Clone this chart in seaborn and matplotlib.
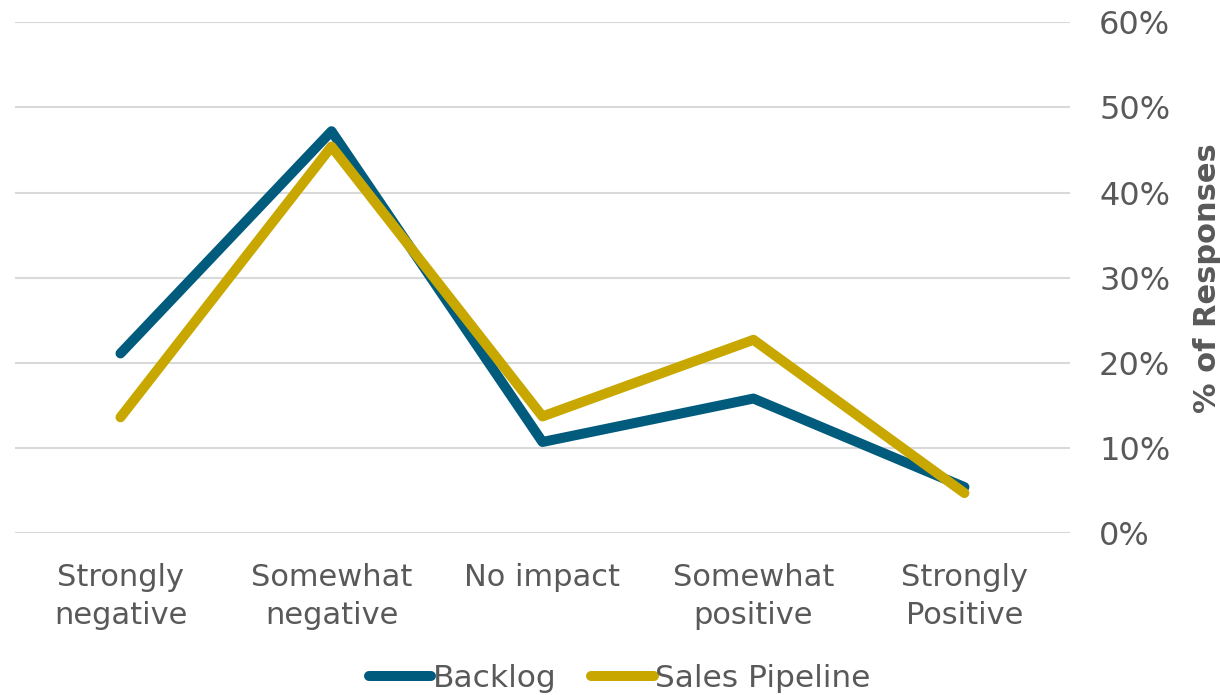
import matplotlib
matplotlib.use("Agg")
import matplotlib.pyplot as plt
import pandas as pd
import seaborn as sns
from matplotlib.ticker import PercentFormatter

categories = ["Strongly\nnegative", "Somewhat\nnegative", "No impact",
              "Somewhat\npositive", "Strongly\nPositive"]
backlog = [21.1, 47.2, 10.7, 15.8, 5.4]
sales_pipeline = [13.6, 45.4, 13.7, 22.7, 4.7]
series_names = ["Backlog", "Sales Pipeline"]
y_ticks = [0, 10, 20, 30, 40, 50, 60]

sns.set_style("white")
plt.rcParams["font.family"] = ["DejaVu Sans"]

df = pd.DataFrame({
    "pos": list(range(len(categories))) * 2,
    "value": backlog + sales_pipeline,
    "series": [series_names[0]] * len(categories) + [series_names[1]] * len(categories),
})

text_color = "#595959"
palette = {"Backlog": "#015B7D", "Sales Pipeline": "#C8A800"}

fig = plt.figure(figsize=(12.2, 6.95), dpi=100)
ax = fig.add_axes([0.0123, 0.233, 0.877 - 0.0123, 0.968 - 0.233])

sns.lineplot(data=df, x="pos", y="value", hue="series", palette=palette,
             linewidth=7.2, ax=ax, legend=False, sort=False)
for line in ax.get_lines():
    line.set_solid_capstyle("round")
    line.set_solid_joinstyle("round")

ax.set_xlim(-0.5, len(categories) - 0.5)
ax.set_ylim(0, 60)
ax.set_xticks(range(len(categories)))
ax.set_xticklabels(categories, fontsize=22, color=text_color, linespacing=1.4)
ax.set_yticks(y_ticks)
ax.yaxis.set_major_formatter(PercentFormatter(decimals=0))
ax.yaxis.tick_right()
ax.yaxis.set_label_position("right")
ax.tick_params(axis="y", length=0, pad=21, labelsize=23, labelcolor=text_color)
ax.tick_params(axis="x", length=0, pad=21.5)
ax.set_xlabel("")
ax.set_ylabel("% of Responses", fontsize=22, fontweight="bold", color=text_color,
              labelpad=16)

ax.grid(axis="y", color="#d9d9d9", linewidth=1.5)
ax.set_axisbelow(True)
for s in ax.spines.values():
    s.set_visible(False)

handles = [plt.Line2D([], [], color=palette[n], linewidth=7.2, solid_capstyle="round")
           for n in series_names]
leg = fig.legend(handles, series_names, loc="center", bbox_to_anchor=(0.508, 0.024),
                 ncol=2, frameon=False, fontsize=22.5, handlelength=2.0,
                 handletextpad=0.05, columnspacing=1.1)
for t in leg.get_texts():
    t.set_color(text_color)

fig.savefig("out.png", dpi=100)
